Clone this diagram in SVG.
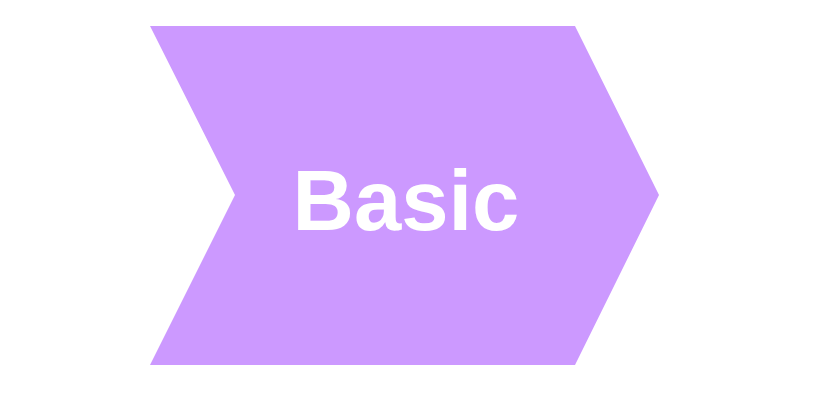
<svg xmlns="http://www.w3.org/2000/svg" width="834" height="411" viewBox="0 0 834 411">
<style>
.shape{fill:#CC99FF;stroke:none}
.label{font-family:"Liberation Sans",Arial,sans-serif;font-weight:bold;fill:#FFFFFF;text-anchor:middle}
</style>
<rect width="834" height="411" fill="#FFFFFF"/>
<g id="node-basic">
<polygon class="shape" points="150,26 575,26 659,195 575,365 150,365 235,195"/>
<text class="label" x="406" y="230" font-size="85">Basic</text>
</g>
<g id="connectors"></g>
</svg>
